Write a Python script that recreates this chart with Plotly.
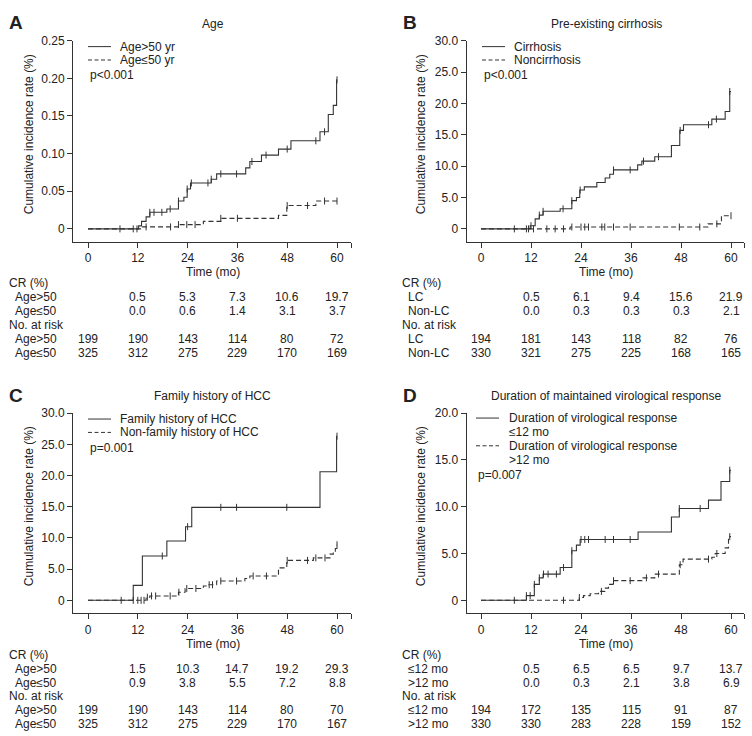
import plotly.graph_objects as go

W, H = 752, 736
FONT = "Liberation Sans, Arial, sans-serif"
TXT = "#222222"
LN = "#333333"


def fx(px):
    return px / W


def fy(py):
    return 1 - py / H


# ---------------- data ----------------
months = [0, 12, 24, 36, 48, 60]

# Panel A: Age
A_hi_t = [0, 12.2, 12.9, 14.0, 14.9, 19.0, 21.8, 23.1, 23.9, 24.7, 29.7, 31.0, 38.0, 39.0, 41.8, 45.9, 48.9, 55.9, 57.9, 59.1, 59.9, 60.0]
A_hi_v = [0, 0.004, 0.010, 0.016, 0.022, 0.0265, 0.037, 0.042, 0.053, 0.061, 0.066, 0.073, 0.081, 0.0895, 0.098, 0.106, 0.117, 0.129, 0.152, 0.164, 0.198, 0.198]
A_hi_cens = [7.7, 10.9, 11.8, 14.9, 15.9, 17.8, 19.8, 21.8, 23.9, 24.9, 28.9, 29.7, 32.0, 35.8, 39.5, 42.9, 48.0, 54.9, 57.0, 60.0]
A_lo_t = [0, 12.9, 21.8, 27.8, 32.0, 45.9, 47.9, 54.9, 60.0]
A_lo_v = [0, 0.0026, 0.0057, 0.010, 0.014, 0.018, 0.031, 0.037, 0.037]
A_lo_cens = [14.0, 19.9, 21.8, 23.8, 25.8, 32.0, 36.0, 48.0, 52.9, 57.0, 60.0]

# Panel B: Pre-existing cirrhosis
B_lc_t = [0, 11.8, 13.0, 14.0, 14.9, 19.0, 21.8, 22.9, 23.7, 24.8, 27.8, 29.8, 30.9, 31.8, 37.6, 38.6, 41.7, 45.7, 47.7, 48.6, 55.4, 58.6, 59.7, 60.0]
B_lc_v = [0, 0.5, 1.6, 2.2, 2.8, 3.2, 4.5, 5.0, 6.2, 6.7, 7.4, 8.1, 8.7, 9.4, 10.2, 10.8, 11.5, 13.3, 15.7, 16.6, 17.5, 18.7, 21.9, 21.9]
B_lc_cens = [8.0, 10.9, 11.4, 12.0, 14.0, 14.9, 19.7, 21.8, 23.8, 31.8, 35.8, 39.0, 42.6, 47.8, 54.6, 56.5, 59.7]
B_nlc_t = [0, 21.4, 54.5, 57.7, 60.0]
B_nlc_v = [0, 0.3, 0.8, 2.1, 2.1]
B_nlc_cens = [12.6, 15.8, 17.8, 19.8, 21.8, 24.0, 24.9, 25.8, 29.0, 29.7, 31.8, 35.8, 47.6, 52.5, 56.6, 60.0]

# Panel C: Family history of HCC
C_fh_t = [0, 10.9, 13.1, 19.0, 23.5, 25.0, 55.9, 59.9, 60.0]
C_fh_v = [0, 2.4, 7.1, 9.5, 11.8, 14.9, 20.6, 26.3, 26.3]
C_fh_cens = [8.0, 17.9, 24.0, 32.0, 35.8, 47.9, 60.0]
C_nfh_t = [0, 14.0, 14.9, 21.8, 23.4, 27.8, 28.8, 31.0, 37.8, 39.0, 45.9, 47.9, 54.3, 58.3, 59.1, 59.6, 60.0]
C_nfh_v = [0, 0.5, 0.7, 1.3, 1.9, 2.3, 2.5, 3.1, 3.5, 3.9, 5.2, 6.4, 6.8, 7.4, 7.7, 8.3, 8.9]
C_nfh_cens = [10.9, 12.0, 12.8, 13.5, 14.3, 15.3, 16.3, 19.8, 21.9, 23.8, 26.0, 29.2, 30.0, 32.0, 35.8, 39.8, 43.0, 48.0, 52.9, 54.9, 57.1, 60.0]

# Panel D: Duration of maintained virological response
D_le_t = [0, 10.9, 12.8, 14.0, 14.9, 19.0, 21.8, 22.9, 23.8, 37.7, 45.7, 47.6, 54.6, 57.6, 59.7, 60.0]
D_le_v = [0, 0.5, 1.7, 2.4, 2.8, 3.5, 5.3, 5.9, 6.5, 7.3, 8.9, 9.8, 10.7, 12.7, 13.9, 13.9]
D_le_cens = [8.0, 10.9, 11.8, 12.8, 14.0, 15.0, 16.1, 18.1, 19.8, 21.8, 24.0, 24.9, 25.8, 29.8, 31.8, 35.8, 47.6, 52.6, 59.7]
D_gt_t = [0, 23.6, 24.6, 26.2, 28.2, 29.7, 30.6, 31.7, 38.6, 41.7, 47.6, 48.5, 55.4, 56.2, 58.6, 59.4, 60.0]
D_gt_v = [0, 0.3, 0.5, 0.7, 0.95, 1.3, 1.7, 2.1, 2.4, 2.8, 3.8, 4.4, 4.6, 5.0, 5.6, 6.8, 6.8]
D_gt_cens = [19.8, 23.6, 28.9, 31.8, 35.8, 39.7, 42.6, 47.8, 54.6, 56.6, 59.7]

# Tables
A_rows = ["Age>50", "Age≤50"]
A_cr1 = [0.5, 5.3, 7.3, 10.6, 19.7]
A_cr2 = [0.0, 0.6, 1.4, 3.1, 3.7]
A_nr1 = [199, 190, 143, 114, 80, 72]
A_nr2 = [325, 312, 275, 229, 170, 169]

B_rows = ["LC", "Non-LC"]
B_cr1 = [0.5, 6.1, 9.4, 15.6, 21.9]
B_cr2 = [0.0, 0.3, 0.3, 0.3, 2.1]
B_nr1 = [194, 181, 143, 118, 82, 76]
B_nr2 = [330, 321, 275, 225, 168, 165]

C_rows = ["Age>50", "Age≤50"]
C_cr1 = [1.5, 10.3, 14.7, 19.2, 29.3]
C_cr2 = [0.9, 3.8, 5.5, 7.2, 8.8]
C_nr1 = [199, 190, 143, 114, 80, 70]
C_nr2 = [325, 312, 275, 229, 170, 167]

D_rows = ["≤12 mo", ">12 mo"]
D_cr1 = [0.5, 6.5, 6.5, 9.7, 13.7]
D_cr2 = [0.0, 0.3, 2.1, 3.8, 6.9]
D_nr1 = [194, 172, 135, 115, 91, 87]
D_nr2 = [330, 330, 283, 228, 159, 152]

A_yticks = [0, 0.05, 0.10, 0.15, 0.20, 0.25]
A_ylabels = ["0", "0.05", "0.10", "0.15", "0.20", "0.25"]
B_yticks = [0, 5, 10, 15, 20, 25, 30]
B_ylabels = ["0", "5.0", "10.0", "15.0", "20.0", "25.0", "30.0"]
D_yticks = [0, 5, 10, 15, 20]
D_ylabels = ["0", "5.0", "10.0", "15.0", "20.0"]


def step_val(ts, vs, t):
    v = vs[0]
    for ti, vi in zip(ts, vs):
        if ti <= t:
            v = vi
        else:
            break
    return v


panels = [
    dict(s="", letter="A", title="Age", left=73, right=351, top=34, bot=237, x0=88, x60=337,
         yr=(-0.0171, 0.25), yt=A_yticks, yl=A_ylabels,
         curves=[(A_hi_t, A_hi_v, A_hi_cens, "solid"), (A_lo_t, A_lo_v, A_lo_cens, "dash")],
         leg=["Age>50 yr", "Age≤50 yr"], p="p<0.001",
         rows=A_rows, cr=(A_cr1, A_cr2), nr=(A_nr1, A_nr2)),
    dict(s="2", letter="B", title="Pre-existing cirrhosis", left=466.5, right=744, top=34, bot=237, x0=481, x60=731,
         yr=(-2.05, 30), yt=B_yticks, yl=B_ylabels,
         curves=[(B_lc_t, B_lc_v, B_lc_cens, "solid"), (B_nlc_t, B_nlc_v, B_nlc_cens, "dash")],
         leg=["Cirrhosis", "Noncirrhosis"], p="p<0.001",
         rows=B_rows, cr=(B_cr1, B_cr2), nr=(B_nr1, B_nr2)),
    dict(s="3", letter="C", title="Family history of HCC", left=73, right=351, top=410, bot=612, x0=88, x60=337,
         yr=(-2.06, 30), yt=B_yticks, yl=B_ylabels,
         curves=[(C_fh_t, C_fh_v, C_fh_cens, "solid"), (C_nfh_t, C_nfh_v, C_nfh_cens, "dash")],
         leg=["Family history of HCC", "Non-family history of HCC"], p="p=0.001",
         rows=C_rows, cr=(C_cr1, C_cr2), nr=(C_nr1, C_nr2)),
    dict(s="4", letter="D", title="Duration of maintained virological response", left=466.5, right=744, top=410, bot=612,
         x0=481, x60=731,
         yr=(-1.376, 20), yt=D_yticks, yl=D_ylabels,
         curves=[(D_le_t, D_le_v, D_le_cens, "solid"), (D_gt_t, D_gt_v, D_gt_cens, "dash")],
         leg=["Duration of virological response<br>≤12 mo", "Duration of virological response<br>>12 mo"],
         p="p=0.007",
         rows=D_rows, cr=(D_cr1, D_cr2), nr=(D_nr1, D_nr2)),
]

fig = go.Figure()
annotations = []
shapes = []
layout = {}


def ann(text, x, y, xanchor="left", size=12, xref="paper", bold=False, angle=0, yanchor="middle"):
    annotations.append(dict(
        text=("<b>%s</b>" % text) if bold else text, x=x, y=y, xref=xref, yref="paper",
        xanchor=xanchor, yanchor=yanchor, showarrow=False, textangle=angle,
        font=dict(family=FONT, size=size, color=TXT)))


for i, P in enumerate(panels):
    s = P["s"]
    pxm = (P["x60"] - P["x0"]) / 60.0
    xr = ((P["left"] - P["x0"]) / pxm, (P["right"] - P["x0"]) / pxm)
    for t, v, cens, style in P["curves"]:
        dash = "solid" if style == "solid" else "5px,3px"
        fig.add_trace(go.Scatter(x=t, y=v, mode="lines", line=dict(shape="hv", color=LN, width=1.1, dash=dash),
                                 xaxis="x" + s, yaxis="y" + s, hoverinfo="skip"))
        cy = [step_val(t, v, c) for c in cens]
        fig.add_trace(go.Scatter(x=cens, y=cy, mode="markers",
                                 marker=dict(symbol="line-ns-open", size=5, color=LN,
                                             line=dict(width=1, color=LN)),
                                 xaxis="x" + s, yaxis="y" + s, hoverinfo="skip"))
    common = dict(showline=True, linecolor=LN, linewidth=1, ticks="outside", ticklen=5, tickwidth=1,
                  tickcolor=LN, showgrid=False, zeroline=False,
                  tickfont=dict(family=FONT, size=12, color=TXT), fixedrange=True)
    layout["xaxis" + s] = dict(common, domain=[fx(P["left"]), fx(P["right"])], range=list(xr),
                               anchor="y" + s, tickvals=months + [xr[1]],
                               ticktext=[str(m) for m in months] + [""])
    layout["yaxis" + s] = dict(common, domain=[fy(P["bot"]), fy(P["top"])], range=list(P["yr"]),
                               anchor="x" + s, tickvals=P["yt"], ticktext=P["yl"])

    # Titles and panel letters
    cx = P["x0"] + 30 * pxm
    ty = P["top"] - 17
    ann(P["title"], fx(cx), fy(ty), xanchor="center")
    lx = 7 if P["left"] < 200 else 401
    ann(P["letter"], fx(lx), fy(ty - 1), size=19, bold=True)
    # y-axis title
    ytx = 29 if P["left"] < 200 else 421
    ann("Cumulative incidence rate (%)", fx(ytx), fy((P["top"] + P["bot"]) / 2 - 7), xanchor="center", angle=-90)
    # x-axis title
    ann("Time (mo)", 30, fy(P["bot"] + 31), xanchor="center", xref="x" + s)

    # Legend
    lx0 = P["x0"] if P["left"] < 200 else P["x0"] + (1 if s == "2" else -5)
    if s == "4":
        ly = [P["top"] + 5, P["top"] + 33]
        py = P["top"] + 62
        lx0 = 476
    else:
        ly = [P["top"] + 6, P["top"] + 19.5]
        py = P["top"] + 35
    for k, lab in enumerate(P["leg"]):
        shapes.append(dict(type="line", xref="paper", yref="paper", x0=fx(lx0), x1=fx(lx0 + 23),
                           y0=fy(ly[k]), y1=fy(ly[k]),
                           line=dict(color=LN, width=1, dash="solid" if k == 0 else "4px,2.5px")))
        if "<br>" in lab:
            parts = lab.split("<br>")
            ann(parts[0], fx(lx0 + 31), fy(ly[k]))
            ann(parts[1], fx(lx0 + 31), fy(ly[k] + 14.5))
        else:
            ann(lab, fx(lx0 + 30), fy(ly[k]))
    ann(P["p"], fx(lx0), fy(py))

    # Risk table
    tl = 7 if P["left"] < 200 else 400
    base = P["bot"] + 42
    rows_y = [base + 14 * k for k in range(6)]
    ann("CR (%)", fx(tl), fy(rows_y[0]))
    ann(P["rows"][0], fx(tl + 6), fy(rows_y[1]))
    ann(P["rows"][1], fx(tl + 6), fy(rows_y[2]))
    ann("No. at risk", fx(tl), fy(rows_y[3]))
    ann(P["rows"][0], fx(tl + 6), fy(rows_y[4]))
    ann(P["rows"][1], fx(tl + 6), fy(rows_y[5]))
    for k, m in enumerate(months[1:]):
        ann("%.1f" % P["cr"][0][k], m, fy(rows_y[1]), xanchor="center", xref="x" + s)
        ann("%.1f" % P["cr"][1][k], m, fy(rows_y[2]), xanchor="center", xref="x" + s)
    for k, m in enumerate(months):
        ann(str(P["nr"][0][k]), m, fy(rows_y[4]), xanchor="center", xref="x" + s)
        ann(str(P["nr"][1][k]), m, fy(rows_y[5]), xanchor="center", xref="x" + s)

fig.update_layout(**layout)
fig.update_layout(width=W, height=H, autosize=False, margin=dict(l=0, r=0, t=0, b=0),
                  paper_bgcolor="white", plot_bgcolor="white", showlegend=False,
                  annotations=annotations, shapes=shapes, font=dict(family=FONT, size=12, color=TXT))

fig.write_html("out.html", config={"displayModeBar": False},
               post_script="document.body.style.margin='0px';document.body.style.overflow='hidden';")
